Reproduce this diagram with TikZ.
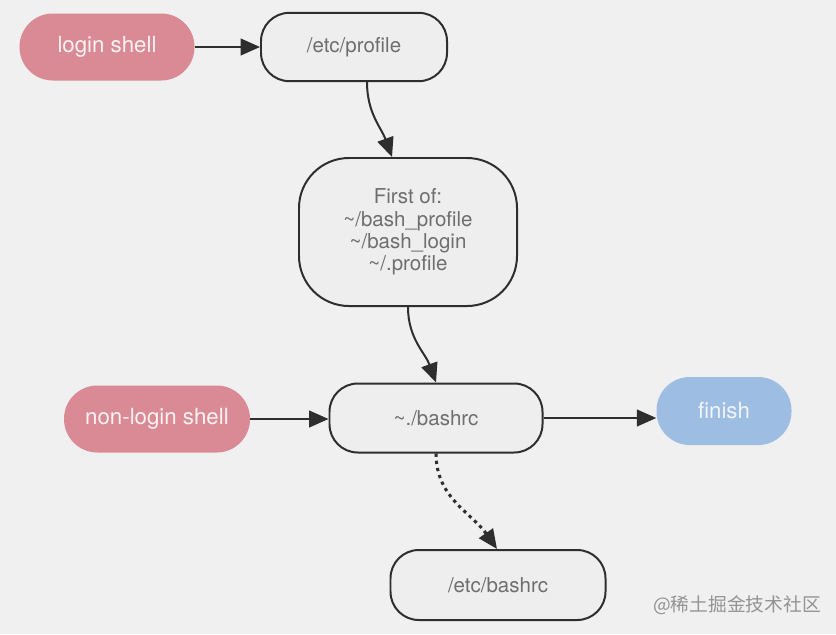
\documentclass[tikz,border=0pt]{standalone}
\usepackage{fontspec}
\setsansfont{TeX Gyre Heros}
\newfontfamily\cjkfont{Noto Sans CJK SC}
\usepackage{tikz}
\usetikzlibrary{arrows.meta, positioning, shapes}
\definecolor{shellpink}{HTML}{D98A94}
\definecolor{finishblue}{HTML}{9DBDE3}
\definecolor{boxfill}{HTML}{EEEEEE}
\definecolor{pagegray}{HTML}{F0F0F0}
\definecolor{textgray}{HTML}{6E6E6E}
\definecolor{linedark}{HTML}{2E2E2E}
\tikzset{
        every node/.style={font=\sffamily\fontsize{17.5}{19}\selectfont, align=center},
        shell box/.style={
		fill=shellpink,
		text=white!90!shellpink,
		font=\sffamily\fontsize{19}{21}\selectfont,
		rounded corners=1cm,
		minimum width=#1,
		minimum height=2.01cm,
	  },
        file box/.style={
		fill=boxfill,
		draw=linedark,
		line width=1.7pt,
		text=textgray,
		rounded corners=0.85cm,
		minimum width=#1,
		minimum height=2.05cm,
	  },
        flow/.style={
		draw=linedark,
		line width=1.7pt,
		-{Triangle[length=0.58cm, width=0.5cm]},
	  },
    }

\begin{document}
\begin{tikzpicture}[x=0.03cm, y=-0.03cm]
    \fill [pagegray] (0,0) rectangle (836,634);
    \useasboundingbox (0,0) rectangle (836,634);
    % top row
    \node [shell box=5.25cm] (login) at (107,47) {login shell};
    \node [file box=5.58cm] (profile) at (354,47) {/etc/profile};
    \node [file box=6.54cm, minimum height=4.44cm, rounded corners=1.5cm] (first) at (408,232)
        {First of:\\\textasciitilde/bash\_profile\\\textasciitilde/bash\_login\\\textasciitilde/.profile};
    % middle row
    \node [shell box=5.58cm] (nonlogin) at (157,419) {non-login shell};
    \node [file box=6.39cm, minimum height=2.07cm] (bashrc) at (436,418) {\textasciitilde./bashrc};
    \node [shell box=4.05cm, fill=finishblue, text=white!85!finishblue, minimum height=2.04cm] (finish) at (724,411) {finish};
    % bottom
    \node [file box=6.45cm, minimum height=2.1cm] (etcbashrc) at (498,585) {/etc/bashrc};
    \node [text=gray!85, font=\cjkfont\fontsize{16}{18}\selectfont] (mark) at (737,605) {@稀土掘金技术社区};
    % connectors
    \draw [flow] (login) -- (profile);
    \draw [flow] ([xshift=0.39cm]profile.south) to[out=-90, in=110] ([xshift=-0.48cm]first.north);
    \draw [flow] (first.south) to[out=-90, in=110] (bashrc.north);
    \draw [flow] (nonlogin.east) -- (nonlogin.east -| bashrc.west);
    \draw [flow] (bashrc.east) -- (bashrc.east -| finish.west);
    \draw [flow, line width=2.6pt, dash pattern=on 2.8pt off 3.4pt] (bashrc.south) to[out=-90, in=125] ([xshift=-0.03cm]etcbashrc.north);
  \end{tikzpicture}
\end{document}
